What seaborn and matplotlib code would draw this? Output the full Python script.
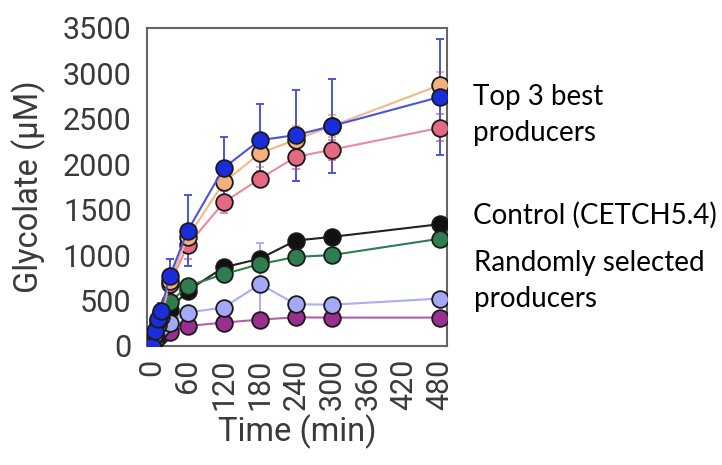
import matplotlib
matplotlib.use("Agg")
import matplotlib.pyplot as plt
import numpy as np
import pandas as pd
import seaborn as sns

# Sampling times (min)
times = [0, 5, 10, 15, 30, 60, 120, 180, 240, 300, 480]

# Glycolate (µM) per variant, with error-bar half-widths
top_orange = [0, 130, 270, 360, 720, 1200, 1800, 2120, 2270, 2420, 2870]
top_orange_err = [0, 20, 40, 50, 80, 120, 150, 150, 150, 120, 150]
top_pink = [0, 110, 230, 320, 680, 1110, 1580, 1840, 2080, 2160, 2400]
top_pink_err = [0, 20, 40, 50, 80, 150, 120, 80, 130, 110, 150]
top_blue = [0, 165, 300, 390, 770, 1270, 1960, 2265, 2320, 2420, 2740]
top_blue_err = [0, 30, 60, 80, 190, 390, 340, 395, 500, 515, 640]
control = [0, 80, 160, 240, 400, 610, 865, 960, 1160, 1200, 1340]
control_err = [0, 10, 15, 20, 30, 30, 30, 40, 40, 40, 40]
random_green = [0, 90, 190, 280, 480, 660, 790, 900, 980, 1000, 1180]
random_green_err = [0, 10, 15, 20, 30, 30, 30, 40, 40, 40, 40]
random_magenta = [0, 50, 100, 130, 150, 220, 257, 290, 315, 312, 312]
random_magenta_err = [0, 10, 10, 10, 15, 20, 20, 20, 20, 20, 20]
random_lilac = [0, 70, 150, 200, 257, 368, 423, 680, 460, 453, 522]
random_lilac_err = [0, 10, 20, 30, 40, 40, 40, 450, 60, 40, 40]

# Drawing order: bottom to top
series = [
    ("Control", control, control_err, "#111111", "#222222"),
    ("Random 1", random_green, random_green_err, "#2e7d4f", "#2e7d4f"),
    ("Random 2", random_magenta, random_magenta_err, "#9a2f92", "#b060a8"),
    ("Random 3", random_lilac, random_lilac_err, "#a3a8f7", "#a9aef5"),
    ("Top 2", top_pink, top_pink_err, "#e36a80", "#e88a9a"),
    ("Top 1", top_orange, top_orange_err, "#f4b07c", "#f2b888"),
    ("Top 3", top_blue, top_blue_err, "#1a2ddb", "#4a55dd"),
]

df = pd.concat(
    [pd.DataFrame({"time": times, "glycolate": v, "err": e, "variant": n})
     for n, v, e, _, _ in series],
    ignore_index=True,
)

sns.set_style("white")
text_color = "#3a3a3a"
plt.rcParams["font.family"] = ["Roboto", "DejaVu Sans"]

fig = plt.figure(figsize=(7.22, 4.65), dpi=100)
ax = fig.add_axes([0.2036, 0.256, 0.4155, 0.684])

for z, (name, vals, errs, face, line) in enumerate(series):
    sub = df[df["variant"] == name]
    ax.errorbar(sub["time"], sub["glycolate"], yerr=sub["err"], fmt="none",
                ecolor=line, elinewidth=1.4, capsize=3, capthick=1.4,
                zorder=2 + z * 0.1)
    sns.lineplot(data=sub, x="time", y="glycolate", ax=ax, color=line,
                 linewidth=1.5, marker="o", markersize=12,
                 markerfacecolor=face, markeredgecolor="#1a1a1a",
                 markeredgewidth=1.3, zorder=3 + z * 0.1, legend=False)

ax.set_xlim(-8, 492)
ax.set_ylim(0, 3500)
ax.set_xticks(np.arange(0, 481, 60))
ax.set_yticks(np.arange(0, 3501, 500))
ax.tick_params(axis="both", direction="out", length=6, width=1.4,
               color="#555555", labelsize=22, labelcolor=text_color, pad=5)
ax.tick_params(axis="x", labelrotation=90, pad=3)
for s in ax.spines.values():
    s.set_color("#666666")
    s.set_linewidth(1.5)

ax.set_xlabel("Time (min)", fontsize=23.5, color=text_color, labelpad=3)
ax.set_ylabel("Glycolate (µM)", fontsize=23.5, color=text_color, labelpad=12)

ann = dict(fontsize=20, color="black", family=["Lato", "DejaVu Sans"],
           va="center", ha="left", transform=None)
H = 465
fig.text(473, H - 97, "Top 3 best", **ann)
fig.text(473, H - 133, "producers", **ann)
fig.text(473, H - 215, "Control (CETCH5.4)", **ann)
fig.text(474, H - 263, "Randomly selected", **ann)
fig.text(474, H - 299, "producers", **ann)

fig.savefig("out.png", dpi=100)
